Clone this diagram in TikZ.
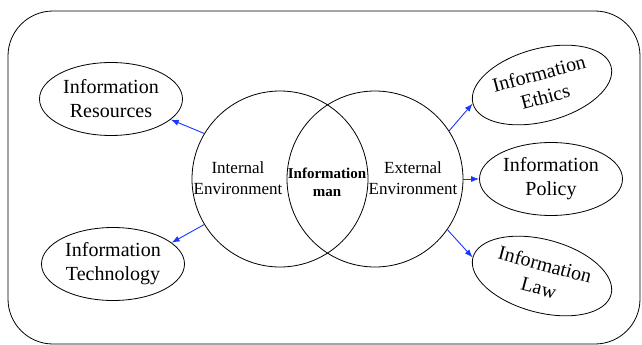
\documentclass[tikz,border=0pt]{standalone}
\usepackage{fontspec}
\setmainfont{Liberation Serif}
\usetikzlibrary{shapes.geometric,arrows.meta}
\definecolor{linkblue}{RGB}{25,55,255}
\tikzset{
  infobox/.style={draw,ellipse,line width=0.8pt,minimum width=143pt,minimum height=73pt,
    inner sep=0pt,align=center,font=\fontsize{20}{24}\selectfont},
  envcircle/.style={draw,circle,line width=0.8pt,minimum size=176pt,inner sep=0pt},
  envtext/.style={align=center,font=\fontsize{17}{21}\selectfont},
  linkarrow/.style={draw=linkblue,line width=0.9pt,-{Latex[length=8pt,width=6pt]}}
}
\begin{document}
\begin{tikzpicture}[x=1pt,y=-1pt]
        \useasboundingbox (0,0) rectangle (642,345);
        %% Frame
        \draw[line width=0.8pt,rounded corners=45pt] (8,11) rectangle (640,344);
        %% Environments
        \node[envcircle] (inner) at (280,179) {};
        \node[envcircle] (outer) at (375,179) {};
        \node[envtext] (innertext) at (238,178) {Internal\\Environment};
        \node[envtext] (outertext) at (413,178) {External\\Environment};
        \node[align=center,font=\fontsize{15}{18}\selectfont\bfseries] (man) at (327,182) {Information\\man};
        %% Left side
        \node[infobox] (resources) at (111,99) {Information\\Resources};
        \node[infobox] (technology) at (113,264) {Information\\Technology};
        %% Right side
        \node[infobox,rotate=15] (ethics) at (542,85) {Information\\Ethics};
        \node[infobox] (policy) at (551,179) {Information\\Policy};
        \node[infobox,rotate=-15] (law) at (542,276) {Information\\Law};
        %% Links
        \draw[linkarrow] (inner.149) -- (resources.-19);
        \draw[linkarrow] (inner.211) -- (technology.20);
        \draw[linkarrow] (outer.33) -- (ethics.west);
        \draw[linkarrow] (outer.0) -- (policy.west);
        \draw[linkarrow] (outer.-35) -- (law.west);
    \end{tikzpicture}
\end{document}
